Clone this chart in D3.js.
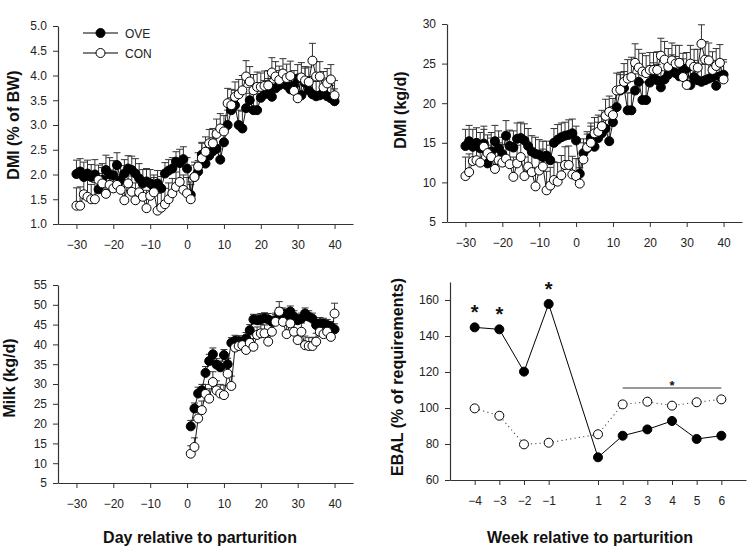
<!DOCTYPE html>
<html><head><meta charset="utf-8">
<script src="https://cdn.jsdelivr.net/npm/d3@7"></script>
<style>
body{margin:0;background:#fff}
svg{display:block}
text{font-family:"Liberation Sans",Arial,Helvetica,sans-serif}
</style>
</head><body>
<svg id="c" width="747" height="547"></svg>
<script>
// ---------- DATA ----------
const days = [-30,-29,-28,-27,-26,-25,-24,-23,-22,-21,
  -20,-19,-18,-17,-16,-15,-14,-13,-12,-11,
  -10,-9,-8,-7,-6,-5,-4,-3,-2,-1,
  0,1,2,3,4,5,6,7,8,9,
  10,11,12,13,14,15,16,17,18,19,
  20,21,22,23,24,25,26,27,28,29,
  30,31,32,33,34,35,36,37,38,39,
  40];
const milkDays = [1,2,3,4,5,6,7,8,9,10,
  11,12,13,14,15,16,17,18,19,20,
  21,22,23,24,25,26,27,28,29,30,
  31,32,33,34,35,36,37,38,39,40];
const weeks = [-4,-3,-2,-1,1,2,3,4,5,6];
const seriesNames = ["OVE","CON"];

// DMI (% of BW)
const dmiBwOve = [2.01,2.06,1.95,2.02,1.95,2.00,1.70,1.89,2.09,2.00,
  1.98,2.19,1.88,2.02,2.12,2.09,2.02,1.92,1.82,1.86,
  1.82,1.75,1.82,1.72,2.02,2.08,2.12,2.26,2.23,2.31,
  2.12,1.59,1.95,2.06,2.40,2.22,2.38,2.47,2.52,2.30,
  2.65,3.00,3.30,3.40,3.00,2.93,3.34,3.50,3.30,3.30,
  3.55,3.62,3.68,3.57,3.74,3.80,3.85,3.80,3.72,3.80,
  3.94,3.60,3.85,3.70,3.62,3.58,3.60,3.65,3.58,3.54,
  3.48];
const dmiBwCon = [1.37,1.37,1.60,1.55,1.50,1.50,1.89,1.82,1.61,1.79,
  1.72,1.79,1.69,1.48,1.82,1.65,1.48,1.64,1.55,1.32,
  1.57,1.64,1.27,1.33,1.40,1.50,1.62,1.75,1.85,1.69,
  1.62,1.50,1.95,2.16,2.33,2.46,2.63,2.63,2.82,2.93,
  2.87,3.44,3.40,3.57,3.62,3.70,3.98,3.88,3.70,3.77,
  3.77,3.79,3.80,4.06,3.98,3.91,4.04,3.95,3.99,3.69,
  3.54,3.96,3.90,3.87,4.30,3.98,3.98,3.76,3.84,3.92,
  3.60];
const dmiBwSeOve = [0.28,0.26,0.30,0.27,0.25,0.30,0.32,0.33,0.30,0.34,
  0.30,0.25,0.30,0.28,0.26,0.28,0.30,0.30,0.28,0.26,
  0.28,0.24,0.26,0.24,0.22,0.22,0.22,0.20,0.28,0.25,
  0.22,0.26,0.24,0.22,0.25,0.26,0.28,0.28,0.30,0.30,
  0.30,0.30,0.25,0.30,0.30,0.35,0.30,0.26,0.33,0.34,
  0.28,0.28,0.26,0.28,0.30,0.30,0.26,0.25,0.30,0.30,
  0.28,0.30,0.30,0.28,0.26,0.30,0.30,0.30,0.26,0.26,
  0.25];
const dmiBwSeCon = [0.36,0.38,0.32,0.35,0.30,0.34,0.30,0.32,0.36,0.30,
  0.34,0.33,0.30,0.36,0.30,0.32,0.35,0.30,0.34,0.36,
  0.33,0.30,0.35,0.34,0.32,0.33,0.30,0.30,0.32,0.30,
  0.32,0.30,0.30,0.28,0.30,0.30,0.28,0.30,0.30,0.30,
  0.32,0.30,0.32,0.30,0.30,0.30,0.32,0.30,0.32,0.30,
  0.28,0.30,0.30,0.30,0.30,0.28,0.30,0.28,0.30,0.30,
  0.32,0.30,0.28,0.30,0.35,0.30,0.30,0.32,0.30,0.30,
  0.30];

// DMI (kg/d)
const dmiKgOve = [14.6,15.2,14.5,15.0,14.3,14.9,12.4,13.9,15.2,14.3,
  13.6,15.9,14.6,14.4,15.5,15.6,15.3,14.6,13.9,13.6,
  13.5,13.2,13.4,12.8,15.0,15.4,15.7,15.9,16.0,16.2,
  15.3,11.1,13.7,14.3,15.6,14.5,15.6,16.2,16.8,15.2,
  17.6,19.5,21.6,21.9,19.1,19.1,21.6,22.7,20.4,20.4,
  22.6,23.1,22.9,22.0,23.0,23.6,24.1,23.8,23.4,24.2,
  24.4,22.3,23.3,22.9,22.7,22.9,23.1,23.3,22.2,23.4,
  23.6];
const dmiKgCon = [10.8,11.3,12.7,12.8,12.5,14.5,13.7,13.2,11.7,12.8,
  12.5,13.0,12.3,10.7,12.4,13.2,10.8,12.0,11.3,9.5,
  11.5,12.0,9.0,9.6,10.3,10.1,10.9,12.2,12.2,11.0,
  10.8,9.85,12.9,14.4,15.0,16.2,16.4,17.1,18.4,18.9,
  18.5,21.6,21.7,22.7,23.1,23.3,25.1,24.5,24.0,23.8,
  24.2,24.2,24.2,26.0,25.5,24.6,25.4,25.0,25.1,23.3,
  22.3,25.0,24.6,24.5,27.5,25.5,25.4,24.2,24.7,25.1,
  23.0];
const dmiKgSeOve = [2.1,2.0,2.2,1.9,2.0,2.2,2.3,2.4,2.0,2.2,
  2.1,1.9,2.0,2.1,2.0,2.0,2.1,2.2,2.0,2.1,
  1.9,2.0,1.8,1.9,1.8,1.9,1.8,1.7,1.9,1.8,
  1.8,1.9,1.8,1.8,1.9,1.9,2.0,2.1,2.0,2.0,
  2.0,2.1,2.0,2.1,2.2,2.2,2.1,2.2,2.3,2.2,
  2.1,2.0,2.0,2.1,2.2,2.0,2.0,2.1,2.0,2.1,
  2.0,2.1,2.1,2.0,2.2,2.1,2.0,2.1,2.0,2.0,
  1.9];
const dmiKgSeCon = [2.4,2.3,2.2,2.3,2.4,2.2,2.3,2.4,2.3,2.2,
  2.3,2.4,2.2,2.5,2.3,2.2,2.4,2.3,2.2,2.4,
  2.3,2.2,2.4,2.3,2.3,2.4,2.5,2.3,2.4,2.3,
  2.2,2.0,2.1,2.0,2.1,2.0,2.1,2.0,2.1,2.0,
  2.1,2.2,2.2,2.3,2.4,2.5,2.4,2.3,2.3,2.2,
  2.2,2.2,2.3,2.2,2.3,2.3,2.2,2.3,2.2,2.3,
  2.2,2.3,2.2,2.3,2.4,2.3,2.2,2.3,2.2,2.3,
  2.2];

// Milk (kg/d)
const milkOve = [19.3,23.8,27.6,28.4,32.8,35.8,37.5,34.9,34.2,37.3,
  35.0,40.4,40.9,40.8,40.5,41.5,43.6,46.3,46.1,46.3,
  46.6,46.3,45.7,46.1,47.8,47.8,47.4,48.3,47.0,46.1,
  46.5,47.8,47.0,46.5,44.9,45.3,45.2,44.9,44.5,43.8];
const milkCon = [12.4,14.1,21.3,23.4,27.5,26.3,30.5,28.4,27.6,27.2,
  32.6,29.5,39.2,39.6,39.8,38.6,40.4,39.4,42.4,42.8,
  42.8,40.7,43.2,45.7,48.3,45.7,42.6,45.3,43.2,41.1,
  43.2,39.8,39.6,39.6,40.7,43.2,42.6,43.2,41.9,47.8];
const milkSeOve = [1.5,1.4,1.6,1.5,1.6,1.7,1.6,1.5,1.6,1.4,
  1.5,1.3,1.4,1.4,1.3,1.5,1.4,1.3,1.4,1.5,
  1.4,1.5,1.4,1.4,1.5,1.4,1.5,1.4,1.5,1.4,
  1.4,1.4,1.5,1.4,1.4,1.5,1.4,1.4,1.3,1.4];
const milkSeCon = [2.0,2.3,2.2,2.3,2.4,2.5,2.6,2.4,2.3,2.5,
  2.4,2.5,2.0,2.1,2.0,2.2,2.0,2.1,2.0,2.2,
  2.1,2.2,2.0,2.2,2.5,2.1,2.2,2.0,2.3,2.1,
  2.2,2.3,2.1,2.2,2.1,2.0,2.2,2.1,2.2,2.6];

// EBAL (% of requirements)
const ebalOve = [144.8,143.7,120.2,157.8,72.6,84.6,88.1,92.8,82.8,84.6];
const ebalCon = [99.8,95.7,79.8,80.7,85.4,102.0,103.5,101.3,103.2,104.8];
const ebalSigWeeks = [-4,-3,-1];
const ebalSigRange = [2,6];

// tick labels
const dayTicks = [-30,-20,-10,0,10,20,30,40];
const dmiBwTicks = [1.0,1.5,2.0,2.5,3.0,3.5,4.0,4.5,5.0];
const dmiKgTicks = [5,10,15,20,25,30];
const milkTicks = [5,10,15,20,25,30,35,40,45,50,55];
const ebalTicks = [60,80,100,120,140,160];
const weekTicks = [-4,-3,-2,-1,1,2,3,4,5,6];

// ---------- DRAWING ----------
const svg = d3.select("#c");
const AX = "#333";

function axes(x, y, xTicks, yTicks, yFmt) {
  const gx = svg.append("g")
    .attr("transform", `translate(0,${y.range()[0]})`)
    .call(d3.axisBottom(x).tickValues(xTicks).tickSize(5).tickSizeOuter(0).tickPadding(11).tickFormat(d3.format("d")));
  const gy = svg.append("g")
    .attr("transform", `translate(${x.range()[0]},0)`)
    .call(d3.axisLeft(y).tickValues(yTicks).tickSize(5).tickSizeOuter(0).tickPadding(6).tickFormat(yFmt));
  [gx, gy].forEach(g => {
    g.select(".domain").attr("stroke", AX).attr("stroke-width", 1.2);
    g.selectAll(".tick line").attr("stroke", AX);
    g.selectAll(".tick text").attr("fill", "#222").style("font-size", "12px")
      .style("font-family", '"Liberation Sans",Arial,sans-serif');
  });
}

function errorBars(x, y, xs, ys, se) {
  const g = svg.append("g").attr("stroke", "#333").attr("stroke-width", 1).attr("fill", "none");
  xs.forEach((d, i) => {
    const px = x(d), y0 = y(ys[i]), y1 = y(ys[i] + se[i]);
    g.append("line").attr("x1", px).attr("x2", px).attr("y1", y0).attr("y2", y1);
    g.append("line").attr("x1", px - 3.5).attr("x2", px + 3.5).attr("y1", y1).attr("y2", y1);
  });
}

function seriesLine(x, y, xs, ys, dash, color, width) {
  svg.append("path")
    .datum(xs.map((d, i) => [d, ys[i]]))
    .attr("fill", "none").attr("stroke", color).attr("stroke-width", width)
    .attr("stroke-dasharray", dash)
    .attr("d", d3.line().x(d => x(d[0])).y(d => y(d[1])));
}

function markers(x, y, xs, ys, filled, r) {
  svg.append("g").selectAll("circle").data(xs).join("circle")
    .attr("cx", d => x(d)).attr("cy", (d, i) => y(ys[i])).attr("r", r)
    .attr("fill", filled ? "#000" : "#fff").attr("stroke", "#000").attr("stroke-width", 1);
}

function dailyPanel(x, y, xs, ove, con, seO, seC) {
  errorBars(x, y, xs, ove, seO);
  errorBars(x, y, xs, con, seC);
  seriesLine(x, y, xs, ove, null, "#000", 0.9);
  seriesLine(x, y, xs, con, null, "#000", 0.9);
  markers(x, y, xs, ove, true, 4.5);
  markers(x, y, xs, con, false, 4.5);
}

function yTitle(text, xb, yc) {
  svg.append("text").attr("transform", `translate(${xb},${yc}) rotate(-90)`)
    .attr("text-anchor", "middle").style("font-size", "16px").style("font-weight", "bold")
    .attr("fill", "#111").text(text);
}
function xTitle(text, xc, yb) {
  svg.append("text").attr("x", xc).attr("y", yb)
    .attr("text-anchor", "middle").style("font-size", "16px").style("font-weight", "bold")
    .attr("fill", "#111").text(text);
}

// Panel A: DMI % BW
const xA = d3.scaleLinear().domain([-35, 45]).range([58, 353]);
const yA = d3.scaleLinear().domain([1, 5]).range([224, 26]);
axes(xA, yA, dayTicks, dmiBwTicks, d3.format(".1f"));
dailyPanel(xA, yA, days, dmiBwOve, dmiBwCon, dmiBwSeOve, dmiBwSeCon);
yTitle("DMI (% of BW)", 19, 125);

// legend
[{n: seriesNames[0], f: true, yy: 33}, {n: seriesNames[1], f: false, yy: 53}].forEach(l => {
  svg.append("line").attr("x1", 83).attr("x2", 118).attr("y1", l.yy).attr("y2", l.yy)
    .attr("stroke", "#000").attr("stroke-width", 1);
  svg.append("circle").attr("cx", 100.5).attr("cy", l.yy).attr("r", 4.5)
    .attr("fill", l.f ? "#000" : "#fff").attr("stroke", "#000");
  svg.append("text").attr("x", 125).attr("y", l.yy + 4.5).style("font-size", "12px")
    .attr("fill", "#222").text(l.n);
});

// Panel B: DMI kg/d
const xB = d3.scaleLinear().domain([-35, 45]).range([447, 742]);
const yB = d3.scaleLinear().domain([5, 30]).range([222, 24]);
axes(xB, yB, dayTicks, dmiKgTicks, d3.format("d"));
dailyPanel(xB, yB, days, dmiKgOve, dmiKgCon, dmiKgSeOve, dmiKgSeCon);
yTitle("DMI (kg/d)", 406, 110);

// Panel C: Milk
const xC = d3.scaleLinear().domain([-35, 45]).range([58, 353]);
const yC = d3.scaleLinear().domain([5, 55]).range([483, 285]);
axes(xC, yC, dayTicks, milkTicks, d3.format("d"));
dailyPanel(xC, yC, milkDays, milkOve, milkCon, milkSeOve, milkSeCon);
yTitle("Milk (kg/d)", 15, 378);
xTitle("Day relative to parturition", 200, 543);

// Panel D: EBAL
const xD = d3.scaleLinear().domain([-5, 7]).range([450, 746]);
const yD = d3.scaleLinear().domain([60, 170]).range([480, 282]);
axes(xD, yD, weekTicks, ebalTicks, d3.format("d"));
seriesLine(xD, yD, weeks, ebalCon, "1.2,3.2", "#555", 1.1);
seriesLine(xD, yD, weeks, ebalOve, null, "#000", 1);
markers(xD, yD, weeks, ebalCon, false, 4.5);
markers(xD, yD, weeks, ebalOve, true, 4.5);
ebalSigWeeks.forEach(w => {
  const i = weeks.indexOf(w);
  svg.append("text").attr("x", xD(w)).attr("y", yD(ebalOve[i]) - 19 + 11)
    .attr("text-anchor", "middle").style("font-size", "20px").style("font-weight", "bold")
    .attr("fill", "#111").text("*");
});
{
  const yl = 388;
  svg.append("line").attr("x1", xD(ebalSigRange[0])).attr("x2", xD(ebalSigRange[1]))
    .attr("y1", yl).attr("y2", yl).attr("stroke", "#333").attr("stroke-width", 1.2);
  svg.append("text").attr("x", (xD(ebalSigRange[0]) + xD(ebalSigRange[1])) / 2).attr("y", yl + 2)
    .attr("text-anchor", "middle").style("font-size", "13px").style("font-weight", "bold")
    .attr("fill", "#111").text("*");
}
yTitle("EBAL (% of requirements)", 403, 377);
xTitle("Week relative to parturition", 590, 543);
</script>
</body></html>
